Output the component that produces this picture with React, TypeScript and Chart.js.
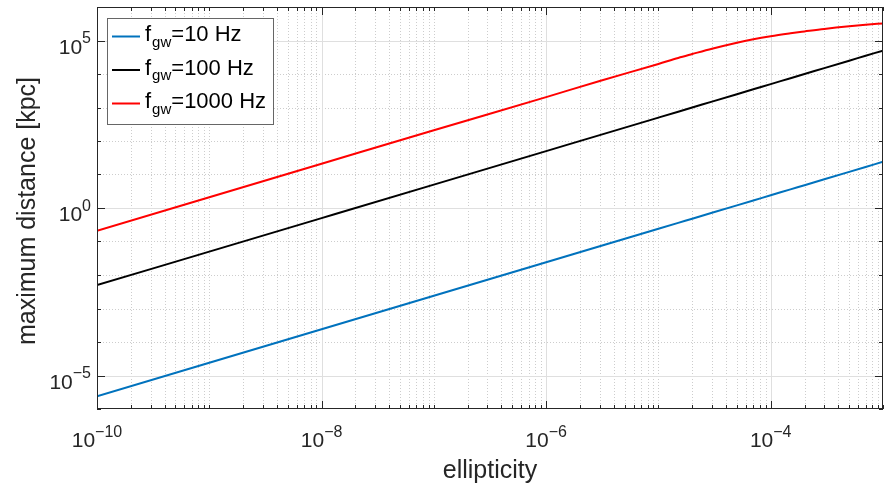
import React, { useEffect, useRef } from "react";
import { Chart, registerables } from "chart.js";

Chart.register(...registerables);

// ---- data ----
const ellipticity = [
  1e-10, 1e-9, 1e-8, 1e-7, 1e-6, 3e-6, 1e-5, 1.5e-5, 2e-5, 3e-5, 5e-5, 7e-5, 1e-4, 1.5e-4, 2e-4, 3e-4, 5e-4, 7e-4, 1e-3,
];
const dist10Hz = [
  2.4e-6, 2.4e-5, 2.4e-4, 2.4e-3, 0.024, 0.072, 0.24, 0.36, 0.48, 0.72, 1.2, 1.68, 2.4, 3.6, 4.8, 7.2, 12, 16.8, 24,
];
const dist100Hz = [
  5e-3, 0.05, 0.5, 5, 50, 150, 500, 750, 1000, 1500, 2500, 3500, 5000, 7500, 10000, 15000, 25000, 35000, 50000,
];
const dist1000Hz = [
  0.21, 2.1, 21, 210, 2040, 6200, 20000, 30200, 39400, 56900, 86100, 109600, 134900, 164100, 186200, 221300, 266100,
  295100, 323600,
];
const seriesNames = ["10 Hz", "100 Hz", "1000 Hz"];
const seriesColors = ["#0072BD", "#000000", "#FF0000"];
const xTickExponents = [-10, -8, -6, -4];
const yTickExponents = [-5, 0, 5];
const xTitle = "ellipticity";
const yTitle = "maximum distance [kpc]";
const xMin = 1e-10;
const xMax = 1e-3;
const yMin = 1e-6;
const yMax = 1e6;

const FONT = '"Liberation Sans", Arial, Helvetica, sans-serif';
const AXC = "#262626";

function lg(v: number) {
  return Math.log10(v);
}
function supText(e: number) {
  return e < 0 ? "\u2212" + String(-e) : String(e);
}

const matlabPlugin = {
  id: "matlabAxes",
  beforeDatasetsDraw(chart: any) {
    const { ctx, chartArea: a, scales } = chart;
    const x = scales.x;
    const y = scales.y;
    ctx.save();
    ctx.beginPath();
    ctx.rect(a.left, a.top, a.right - a.left, a.bottom - a.top);
    ctx.clip();
    ctx.lineWidth = 1;
    // minor grid (dotted)
    ctx.strokeStyle = "#cdcdcd";
    ctx.setLineDash([1, 2]);
    const e0 = Math.round(lg(xMin));
    const e1 = Math.round(lg(xMax));
    for (let e = e0; e < e1; e++) {
      for (let m = 1; m <= 9; m++) {
        if (m === 1 && (xTickExponents.includes(e) || e === e0)) continue;
        const px = Math.round(x.getPixelForValue(m * Math.pow(10, e))) + 0.5;
        ctx.beginPath();
        ctx.moveTo(px, a.top);
        ctx.lineTo(px, a.bottom);
        ctx.stroke();
      }
    }
    const f0 = Math.round(lg(yMin));
    const f1 = Math.round(lg(yMax));
    for (let e = f0 + 1; e < f1; e++) {
      if (yTickExponents.includes(e)) continue;
      const py = Math.round(y.getPixelForValue(Math.pow(10, e))) + 0.5;
      ctx.beginPath();
      ctx.moveTo(a.left, py);
      ctx.lineTo(a.right, py);
      ctx.stroke();
    }
    // major grid
    ctx.setLineDash([]);
    ctx.strokeStyle = "#dfdfdf";
    for (const e of xTickExponents) {
      const px = Math.round(x.getPixelForValue(Math.pow(10, e))) + 0.5;
      ctx.beginPath();
      ctx.moveTo(px, a.top);
      ctx.lineTo(px, a.bottom);
      ctx.stroke();
    }
    for (const e of yTickExponents) {
      const py = Math.round(y.getPixelForValue(Math.pow(10, e))) + 0.5;
      ctx.beginPath();
      ctx.moveTo(a.left, py);
      ctx.lineTo(a.right, py);
      ctx.stroke();
    }
    ctx.restore();
  },
  afterDatasetsDraw(chart: any) {
    const { ctx, chartArea: a, scales } = chart;
    const x = scales.x;
    const y = scales.y;
    ctx.save();
    ctx.setLineDash([]);
    ctx.strokeStyle = AXC;
    ctx.lineWidth = 1;
    // box
    ctx.strokeRect(a.left + 0.5, a.top + 0.5, a.right - a.left - 1, a.bottom - a.top - 1);
    // ticks (inward, mirrored)
    const major = 8;
    const minor = 4;
    const e0 = Math.round(lg(xMin));
    const e1 = Math.round(lg(xMax));
    ctx.beginPath();
    for (let e = e0; e <= e1; e++) {
      for (let m = 1; m <= 9; m++) {
        if (e === e1 && m > 1) break;
        const isMajor = m === 1 && xTickExponents.includes(e);
        const len = isMajor ? major : minor;
        const px = Math.round(x.getPixelForValue(m * Math.pow(10, e))) + 0.5;
        ctx.moveTo(px, a.bottom);
        ctx.lineTo(px, a.bottom - len);
        ctx.moveTo(px, a.top);
        ctx.lineTo(px, a.top + len);
      }
    }
    const f0 = Math.round(lg(yMin));
    const f1 = Math.round(lg(yMax));
    for (let e = f0; e <= f1; e++) {
      const len = yTickExponents.includes(e) ? major : minor;
      const py = Math.round(y.getPixelForValue(Math.pow(10, e))) + 0.5;
      ctx.moveTo(a.left, py);
      ctx.lineTo(a.left + len, py);
      ctx.moveTo(a.right, py);
      ctx.lineTo(a.right - len, py);
    }
    ctx.stroke();

    // tick labels with superscript exponents
    ctx.fillStyle = AXC;
    ctx.textBaseline = "alphabetic";
    ctx.textAlign = "left";
    const mainFont = `21px ${FONT}`;
    const supFont = `16px ${FONT}`;
    for (const e of xTickExponents) {
      const px = x.getPixelForValue(Math.pow(10, e));
      ctx.font = mainFont;
      const w1 = ctx.measureText("10").width;
      ctx.font = supFont;
      const sup = supText(e);
      const w2 = ctx.measureText(sup).width;
      const sx = px - (w1 + w2) / 2;
      ctx.font = mainFont;
      ctx.fillText("10", sx, a.bottom + 37.5);
      ctx.font = supFont;
      ctx.fillText(sup, sx + w1, a.bottom + 28);
    }
    for (const e of yTickExponents) {
      const py = y.getPixelForValue(Math.pow(10, e));
      ctx.font = mainFont;
      const w1 = ctx.measureText("10").width;
      ctx.font = supFont;
      const sup = supText(e);
      const w2 = ctx.measureText(sup).width;
      const right = a.left - 6;
      const sx = right - w1 - w2;
      ctx.font = mainFont;
      ctx.fillText("10", sx, py + 13);
      ctx.font = supFont;
      ctx.fillText(sup, sx + w1, py + 2.5);
    }

    // axis titles
    ctx.font = `25px ${FONT}`;
    ctx.textAlign = "center";
    ctx.fillText(xTitle, (a.left + a.right) / 2, a.bottom + 69);
    ctx.save();
    ctx.translate(35, (a.top + a.bottom) / 2 + 3);
    ctx.rotate(-Math.PI / 2);
    ctx.fillText(yTitle, 0, 0);
    ctx.restore();

    // legend
    const lx = 107.5;
    const ly = 18.5;
    const lw = 166;
    const lh = 106;
    ctx.fillStyle = "#ffffff";
    ctx.fillRect(lx, ly, lw, lh);
    ctx.strokeStyle = "#666666";
    ctx.lineWidth = 1;
    ctx.strokeRect(lx, ly, lw, lh);
    const rows = [36.5, 70, 103.5];
    ctx.textAlign = "left";
    chart.data.datasets.forEach((ds: any, i: number) => {
      const ry = rows[i];
      ctx.strokeStyle = ds.borderColor;
      ctx.lineWidth = 2;
      ctx.beginPath();
      ctx.moveTo(112, ry);
      ctx.lineTo(140, ry);
      ctx.stroke();
      ctx.fillStyle = "#000000";
      ctx.font = `22px ${FONT}`;
      ctx.fillText("f", 145, ry + 4.5);
      const wf = ctx.measureText("f").width;
      ctx.font = `15px ${FONT}`;
      ctx.fillText("gw", 145 + wf + 1, ry + 10);
      const wg = ctx.measureText("gw").width;
      ctx.font = `22px ${FONT}`;
      ctx.fillText("=" + seriesNames[i], 145 + wf + 1 + wg, ry + 4.5);
    });
    ctx.restore();
  },
};

export default function App() {
  const ref = useRef<HTMLCanvasElement>(null);
  useEffect(() => {
    document.body.style.margin = "0";
    const seriesValues = [dist10Hz, dist100Hz, dist1000Hz];
    const chart = new Chart(ref.current as HTMLCanvasElement, {
      type: "line",
      data: {
        datasets: seriesValues.map((vals, i) => ({
          label: "f_gw=" + seriesNames[i],
          data: ellipticity.map((e, j) => ({ x: e, y: vals[j] })),
          borderColor: seriesColors[i],
          backgroundColor: seriesColors[i],
          borderWidth: 2,
          pointRadius: 0,
          fill: false,
          cubicInterpolationMode: "monotone",
        })),
      },
      options: {
        animation: false,
        responsive: true,
        maintainAspectRatio: false,
        events: [],
        layout: { padding: { left: 0, right: 5, top: 7, bottom: 0 } },
        plugins: {
          legend: { display: false },
          tooltip: { enabled: false },
        },
        scales: {
          x: {
            type: "logarithmic",
            min: xMin,
            max: xMax,
            grid: { display: false },
            border: { display: false },
            ticks: { display: false },
            afterFit: (s: any) => {
              s.height = 76;
            },
          },
          y: {
            type: "logarithmic",
            min: yMin,
            max: yMax,
            grid: { display: false },
            border: { display: false },
            ticks: { display: false },
            afterFit: (s: any) => {
              s.width = 97;
            },
          },
        },
      },
      plugins: [matlabPlugin],
    } as any);
    return () => chart.destroy();
  }, []);
  return (
    <div style={{ width: 888, height: 485, position: "relative" }}>
      <canvas ref={ref} />
    </div>
  );
}
